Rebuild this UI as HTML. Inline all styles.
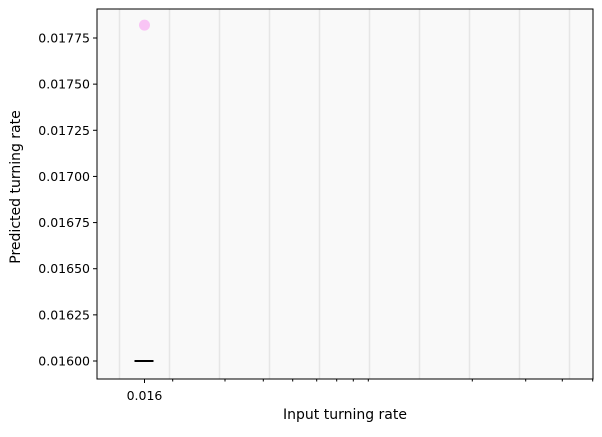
<!DOCTYPE html>
<html><head><meta charset="utf-8"><style>
body{margin:0;background:#fff;font-family:"Liberation Sans","DejaVu Sans",sans-serif;}
text{font-family:"DejaVu Sans","Liberation Sans",sans-serif;font-size:12.5px;fill:#000}
text.title{font-size:14px}
</style></head><body>
<svg id="chart" width="602" height="432" xmlns="http://www.w3.org/2000/svg"></svg>
<script>
const yTicks=[0.016,0.01625,0.0165,0.01675,0.017,0.01725,0.0175,0.01775];
const yTickLabels=["0.01600","0.01625","0.01650","0.01675","0.01700","0.01725","0.01750","0.01775"];
const xTicks=[0.016];
const xTickLabels=["0.016"];
const gridX=[0.0157,0.0162,0.0167,0.0172,0.0177,0.0182,0.0187,0.0192,0.0197,0.0202,0.0207,0.0212];
const pointX=[0.016];
const pointY=[0.01782];
const lineX=[0.016];
const lineY=[0.016];
const L=97,R=593,T=9,B=379;
const x0=0.016,xp0=144.5,xScale=50/0.0005;
function X(v){return xp0+(v-x0)*xScale;}
const minorPx=[172.7,225,263.3,292.7,316.7,336.7,353.3,368.3,472.3,525.7,562.3,592.7];
function Y(v){return 361+(v-0.016)*(38-361)/0.00175;}
const svg=document.getElementById('chart');
const NS="http://www.w3.org/2000/svg";
function mk(t,a,p){const e=document.createElementNS(NS,t);for(const k in a)e.setAttribute(k,a[k]);(p||svg).appendChild(e);return e;}
const bg=mk('rect',{x:L,y:T,width:R-L,height:B-T,fill:'#f9f9f9'});


gridX.forEach((v,i)=>{const g=mk('line',{x1:119.5+50*i,x2:119.5+50*i,y1:T,y2:B,stroke:'#e6e6e6','stroke-width':1.5});

});
lineX.forEach((v,i)=>{const l=mk('line',{x1:X(v)-10,x2:X(v)+9,y1:Y(lineY[i]),y2:Y(lineY[i]),stroke:'#000','stroke-width':2});

});
pointX.forEach((v,i)=>{const c=mk('circle',{cx:X(v),cy:Y(pointY[i]),r:5.5,fill:'#f9c4f5'});

});
const frame=mk('rect',{x:L,y:T,width:R-L,height:B-T,fill:'none',stroke:'#000','stroke-width':1});


yTicks.forEach((v,i)=>{const y=Y(v);mk('line',{x1:L-4,x2:L,y1:y,y2:y,stroke:'#000'});
const t=mk('text',{x:L-7,y:y+4.5,'text-anchor':'end'});t.textContent=yTickLabels[i];

});
xTicks.forEach((v,i)=>{const x=X(v);mk('line',{x1:x,x2:x,y1:B,y2:B+4,stroke:'#000'});
const t=mk('text',{x:x,y:B+21,'text-anchor':'middle'});t.textContent=xTickLabels[i];

});
minorPx.forEach(x=>mk('line',{x1:x,x2:x,y1:B,y2:B+2.5,stroke:'#000'}));
const xt=mk('text',{x:345,y:419,'text-anchor':'middle','class':'title'});xt.textContent='Input turning rate';


const yt=mk('text',{x:20,y:187,'text-anchor':'middle','class':'title',transform:'rotate(-90 20 187)'});yt.textContent='Predicted turning rate';


</script>
</body></html>
